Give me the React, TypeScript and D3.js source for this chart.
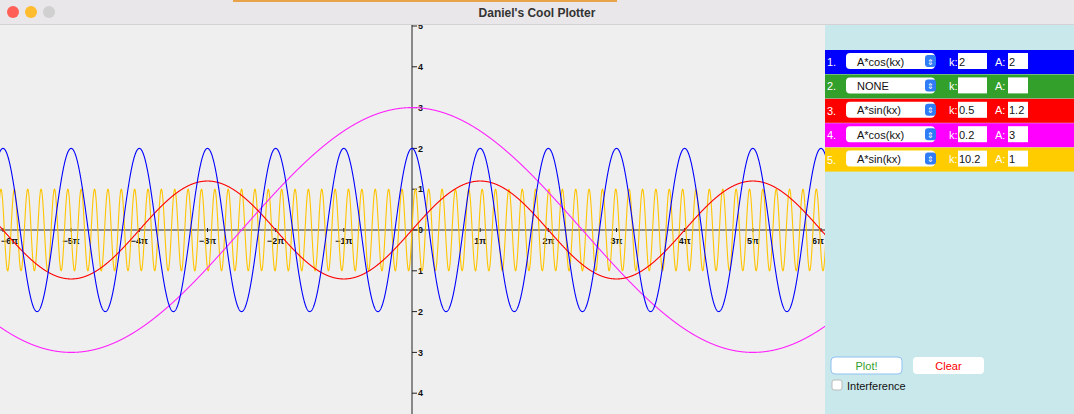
import * as d3 from "d3";

// function definitions from the side panel
const rowLabels = ["1.", "2.", "3.", "4.", "5."];
const rowTypes = ["A*cos(kx)", "NONE", "A*sin(kx)", "A*cos(kx)", "A*sin(kx)"];
const rowK = ["2", "", "0.5", "0.2", "10.2"];
const rowA = ["2", "", "1.2", "3", "1"];
const rowColors = ["#0000ff", "#33a02c", "#ff0000", "#ff00ff", "#ffcc00"];
const curveColors = ["#0000ff", "", "#ff0000", "#ff22ff", "#ffc400"];

const xTicks = [-6, -5, -4, -3, -2, -1, 1, 2, 3, 4, 5, 6];
const yTicks = [-4, -3, -2, -1, 0, 1, 2, 3, 4, 5];

const W = 1074;
const H = 414;

export default function App() {
  const x = d3.scaleLinear().domain([-6 * Math.PI, 6 * Math.PI]).range([3, 821]);
  const y = d3.scaleLinear().domain([0, 1]).range([230, 189.2]);
  const xs = d3.range(0, 4001).map((i) => -6.1 * Math.PI + (12.2 * Math.PI * i) / 4000);

  const line = d3
    .line<number[]>()
    .x((d) => x(d[0]))
    .y((d) => y(d[1]));

  const curves = rowTypes.map((t, i) => {
    if (t === "NONE") return null;
    const k = +rowK[i];
    const A = +rowA[i];
    const f = t.includes("cos") ? Math.cos : Math.sin;
    return line(xs.map((v) => [v, A * f(k * v)]));
  });

  const font = "'Helvetica Neue', 'Liberation Sans', Arial, sans-serif";

  return (
    <div style={{ position: "fixed", left: 0, top: 0 }}>
      <svg width={W} height={H} style={{ display: "block", fontFamily: font }}>
        <defs>
          <clipPath id="plot">
            <rect x={0} y={25} width={825} height={H - 25} />
          </clipPath>
        </defs>
        {/* title bar */}
        <rect x={0} y={0} width={W} height={25} fill="#e9e7e9" />
        <rect x={233} y={0} width={384} height={2} fill="#e8a24a" />
        <line x1={0} x2={W} y1={24.5} y2={24.5} stroke="#d4d2d4" />
        {["#ff5f57", "#febc2e", "#d0d0d0"].map((c, i) => (
          <circle key={c} cx={13 + i * 18} cy={12} r={6} fill={c} />
        ))}
        <text x={537} y={16.5} textAnchor="middle" fontSize={12} fontWeight="bold" fill="#333">
          Daniel's Cool Plotter
        </text>

        {/* plot area */}
        <rect x={0} y={25} width={825} height={H - 25} fill="#efefef" />
        <g clipPath="url(#plot)">
          <line x1={0} x2={825} y1={y(0)} y2={y(0)} stroke="#222" />
          <line x1={x(0)} x2={x(0)} y1={25} y2={H} stroke="#222" />
          {xTicks.map((t) => (
            <g key={t} transform={`translate(${x(t * Math.PI)},${y(0)})`}>
              <line y1={-2} y2={2} stroke="#222" />
              <text
                y={14}
                textAnchor={t === -6 ? "start" : t === 6 ? "end" : "middle"}
                x={t === -6 ? -2 : t === 6 ? 3 : 0}
                fontSize={9}
                fontWeight="bold"
                fill="#111"
              >
                {(t < 0 ? "−" : "") + Math.abs(t) + "π"}
              </text>
            </g>
          ))}
          {yTicks.map((t) => (
            <g key={t} transform={`translate(${x(0)},${y(t)})`}>
              <line x1={0} x2={5} stroke="#222" />
              <text x={6} dy="0.35em" fontSize={9} fontWeight="bold" fill="#111">
                {t < 0 ? Math.abs(t) : t}
              </text>
            </g>
          ))}
          {[4, 3, 2, 0].map((i) =>
            curves[i] ? (
              <path key={i} d={curves[i] as string} fill="none" stroke={curveColors[i]} strokeWidth={1.1} />
            ) : null
          )}
        </g>

        {/* side panel */}
        <rect x={825} y={25} width={W - 825} height={H - 25} fill="#c9e8ec" />
        {rowLabels.map((lab, i) => {
          const ry = 50 + i * 24.4;
          return (
            <g key={lab} transform={`translate(825,${ry})`} fontSize={11}>
              <rect width={W - 825} height={24} fill={rowColors[i]} />
              <text x={2} y={16} fill="#fff">{lab}</text>
              <rect x={21} y={3} width={89} height={16} rx={4} fill="#fff" />
              <text x={32} y={15.5} fill="#111">{rowTypes[i]}</text>
              <rect x={100} y={5} width={11} height={12} rx={3} fill="#2f7cf6" />
              <text x={105.5} y={14.5} fontSize={8} fill="#fff" textAnchor="middle">⇕</text>
              <text x={124} y={15.5} fill="#fff">k:</text>
              <rect x={133} y={3} width={29} height={16} fill="#fff" />
              <text x={134} y={15.5} fill="#111">{rowK[i]}</text>
              <text x={170} y={15.5} fill="#fff">A:</text>
              <rect x={183} y={3} width={20} height={16} fill="#fff" />
              <text x={184} y={15.5} fill="#111">{rowA[i]}</text>
            </g>
          );
        })}
        <rect x={831} y={357} width={71} height={17} rx={4} fill="#fff" stroke="#8fc1f2" />
        <text x={866.5} y={369.5} textAnchor="middle" fontSize={11} fill="#33a02c">Plot!</text>
        <rect x={913} y={357} width={71} height={17} rx={4} fill="#fff" />
        <text x={948.5} y={369.5} textAnchor="middle" fontSize={11} fill="#ff0000">Clear</text>
        <rect x={832} y={380} width={10} height={10} rx={2} fill="#fff" stroke="#bbb" />
        <text x={847} y={389.5} fontSize={11} fill="#111">Interference</text>
      </svg>
    </div>
  );
}
